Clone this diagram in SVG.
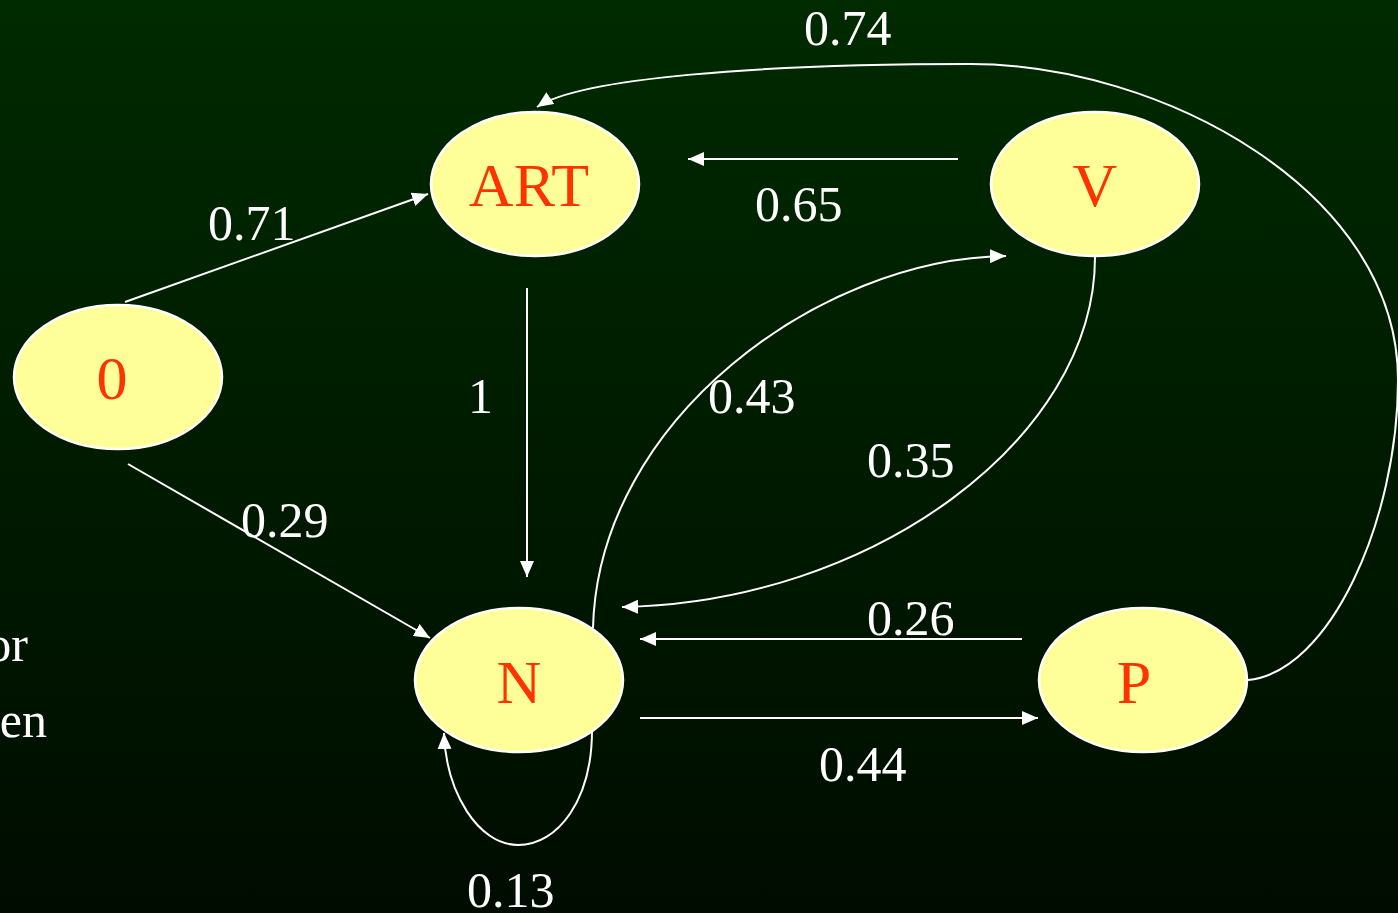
<svg xmlns="http://www.w3.org/2000/svg" width="1398" height="913" viewBox="0 0 1398 913">
<defs>
<linearGradient id="bg" x1="0" y1="0" x2="0" y2="1">
<stop offset="0" stop-color="#002a00"/>
<stop offset="1" stop-color="#000c00"/>
</linearGradient>
<marker id="ah" markerUnits="userSpaceOnUse" markerWidth="18" markerHeight="14" refX="16" refY="7" orient="auto">
<path d="M0,0 L16,7 L0,14 Z" fill="#ffffff"/>
</marker>
<style>
.node ellipse{fill:#ffff99;stroke:#ffffff;stroke-width:2.5}
.node text{font-family:"Liberation Serif","Times New Roman",serif;font-size:62px;fill:#ff3300;text-anchor:middle}
.edge{fill:none;stroke:#ffffff;stroke-width:2}
.arr{marker-end:url(#ah)}
.lbl{font-family:"Liberation Serif","Times New Roman",serif;font-size:50px;fill:#ffffff}
</style>
</defs>
<rect x="0" y="0" width="1398" height="913" fill="url(#bg)"/>
<text class="lbl" x="28" y="661" text-anchor="end">or</text>
<text class="lbl" x="47" y="737" text-anchor="end">en</text>
<g id="connectors">
<path class="edge arr" d="M125,302 L428,194"/>
<path class="edge arr" d="M128,464 L430,638"/>
<path class="edge arr" d="M527,288 L527,577"/>
<path class="edge arr" d="M958,159 L688,159"/>
<path class="edge arr" d="M593,628 C598,420 820,258 1006,256"/>
<path class="edge arr" d="M1095,257 C1095,440 870,603 622,607"/>
<path class="edge arr" d="M1022,639 L640,639"/>
<path class="edge arr" d="M640,718 L1038,718"/>
<path class="edge arr" d="M1248,680 C1330,672 1398,520 1398,380 C1398,190 1160,64 970,64 C760,64 580,78 537,107"/>
<path class="edge arr" d="M592,730 C592,800 558,845 518,845 C478,845 446,792 444,733"/>
<text class="lbl" x="804" y="45">0.74</text>
<text class="lbl" x="208" y="240">0.71</text>
<text class="lbl" x="755" y="221">0.65</text>
<text class="lbl" x="468" y="413">1</text>
<text class="lbl" x="708" y="413">0.43</text>
<text class="lbl" x="867" y="477">0.35</text>
<text class="lbl" x="241" y="537">0.29</text>
<text class="lbl" x="867" y="635">0.26</text>
<text class="lbl" x="819" y="781">0.44</text>
<text class="lbl" x="467" y="907">0.13</text>
</g>
<g id="node-ART" class="node"><ellipse cx="535" cy="184" rx="104" ry="72"/><text x="529" y="206">ART</text></g>
<g id="node-V" class="node"><ellipse cx="1095" cy="184" rx="104" ry="72"/><text x="1095" y="206">V</text></g>
<g id="node-0" class="node"><ellipse cx="118" cy="377" rx="104" ry="72"/><text x="112" y="399">0</text></g>
<g id="node-N" class="node"><ellipse cx="519" cy="680" rx="104" ry="72"/><text x="519" y="703">N</text></g>
<g id="node-P" class="node"><ellipse cx="1143" cy="680" rx="104" ry="72"/><text x="1134" y="703">P</text></g>
</svg>
